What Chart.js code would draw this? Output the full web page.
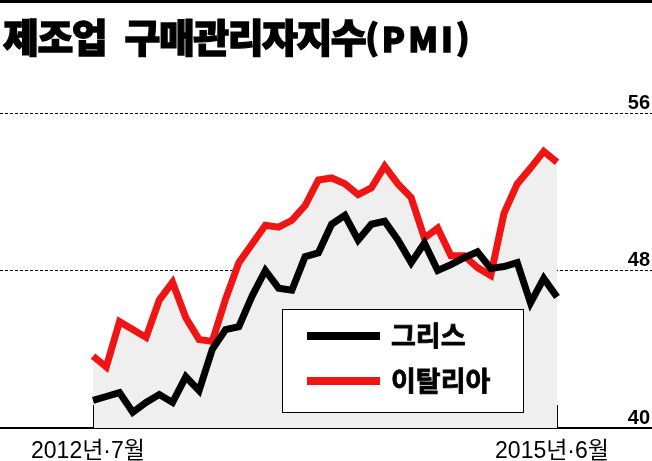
<!DOCTYPE html>
<html lang="ko">
<head>
<meta charset="utf-8">
<title>제조업 구매관리자지수(PMI)</title>
<script src="https://cdn.jsdelivr.net/npm/chart.js@4.4.1/dist/chart.umd.min.js"></script>
<style>
  html, body { margin: 0; padding: 0; background: #fff; }
  #wrap { position: relative; width: 652px; height: 461px; overflow: hidden; }
  #topRule { position: absolute; left: 0; top: 0; width: 652px; height: 3px; background: #000; }
  #title {
    position: absolute; left: 3px; top: 16px; margin: 0;
    font-family: "Noto Sans CJK KR Black", "Noto Sans CJK KR", sans-serif; font-weight: 900;
    font-size: 39px; line-height: 39px; letter-spacing: -1.5px; word-spacing: 9px;
    -webkit-text-stroke: 1.3px #000;
    color: #000; white-space: nowrap;
  }
  #title small { font-size: 34px; letter-spacing: 3px; }
  canvas { position: absolute; left: 0; top: 0; }
</style>
</head>
<body>
<div id="wrap">
  <canvas id="chart" width="652" height="461"></canvas>
  <div id="topRule"></div>
  <h1 id="title">제조업 구매관리자지수<small>(PMI)</small></h1>
</div>
<script>
// 월별 카테고리: 2012년 7월 ~ 2015년 6월
const months = [];
for (let y = 2012, m = 7; months.length < 36; m++) {
  if (m > 12) { m = 1; y++; }
  months.push(`${y}년·${m}월`);
}

const seriesNames = ['그리스', '이탈리아'];

// 그리스 PMI
const greece = [
  41.4, 41.6, 41.8, 40.8, 41.3, 41.7, 41.3, 42.6, 41.9, 44.0, 45.0, 45.15,
  46.7, 48.0, 47.1, 47.0, 48.7, 48.9, 50.35, 50.8, 49.55, 50.35, 50.5, 49.55,
  48.4, 49.4, 48.0, 48.3, 48.65, 48.95, 48.1, 48.2, 48.4, 46.35, 47.6, 46.65
];

// 이탈리아 PMI
const italy = [
  43.65, 43.1, 45.4, 45.0, 44.6, 46.5, 47.4, 45.6, 44.5, 44.4, 46.55, 48.4,
  49.35, 50.3, 50.2, 50.55, 51.3, 52.6, 52.7, 52.4, 51.85, 52.2, 53.3, 52.4,
  51.7, 49.65, 50.15, 48.75, 48.75, 48.15, 47.75, 50.9, 52.4, 53.2, 54.05, 53.5
];

const yTicks = [40, 48, 56];

// 범례 상자 + 아래축 작은 눈금
const boxLegend = {
  id: 'boxLegend',
  afterDraw(chart) {
    const ctx = chart.ctx;
    const xs = chart.scales.x;
    const bottom = chart.chartArea.bottom;
    ctx.save();
    ctx.strokeStyle = '#000';
    ctx.lineWidth = 1;
    xs.ticks.forEach(t => {
      const px = Math.round(xs.getPixelForValue(t.value)) + 0.5;
      ctx.beginPath();
      ctx.moveTo(px, bottom - 23);
      ctx.lineTo(px, bottom);
      ctx.stroke();
    });

    ctx.fillStyle = '#fff';
    ctx.fillRect(282, 309, 241, 103);
    ctx.strokeRect(282.5, 309.5, 241, 103);

    chart.data.datasets.forEach((ds, i) => {
      const y = 336 + i * 45;
      ctx.strokeStyle = ds.borderColor;
      ctx.lineWidth = 8;
      ctx.lineCap = 'butt';
      ctx.beginPath();
      ctx.moveTo(307, y);
      ctx.lineTo(380, y);
      ctx.stroke();
      ctx.fillStyle = '#000';
      ctx.strokeStyle = '#000';
      ctx.lineWidth = 0.8;
      ctx.font = 'bold 27px "Noto Sans CJK KR"';
      ctx.textBaseline = 'middle';
      ctx.fillText(ds.label, 391, y);
      ctx.strokeText(ds.label, 391, y);
    });
    ctx.restore();
  }
};

const lineStyle = {
  borderWidth: 7,
  pointRadius: 0,
  tension: 0,
  fill: 'start',
  backgroundColor: '#efefef',
  borderJoinStyle: 'miter'
};

new Chart(document.getElementById('chart'), {
  type: 'line',
  data: {
    datasets: [
      { ...lineStyle, label: seriesNames[0], borderColor: '#000000', data: greece.map((v, i) => ({ x: i, y: v })) },
      { ...lineStyle, label: seriesNames[1], borderColor: '#ef1515', data: italy.map((v, i) => ({ x: i, y: v })) }
    ]
  },
  options: {
    responsive: false,
    animation: false,
    layout: { padding: { top: 113, left: 0, right: 0, bottom: 0 } },
    plugins: {
      legend: { display: false },
      tooltip: { enabled: false },
      filler: { drawTime: 'beforeDatasetsDraw' }
    },
    scales: {
      x: {
        type: 'linear',
        min: -7.015,
        max: 42.165,
        afterBuildTicks: s => { s.ticks = [{ value: 0 }, { value: months.length - 1 }]; },
        afterFit: s => { s.height = 33; },
        ticks: {
          autoSkip: false,
          maxRotation: 0,
          padding: 2,
          labelOffset: -5,
          color: '#000',
          font: { family: '"Liberation Sans", "Noto Sans CJK KR"', size: 23 },
          callback: v => months[v]
        },
        grid: { display: false },
        border: { display: true, color: '#000', width: 2 }
      },
      y: {
        position: 'right',
        min: 40,
        max: 56,
        afterBuildTicks: s => { s.ticks = yTicks.map(v => ({ value: v })); },
        afterFit: s => { s.width = 0; },
        ticks: {
          mirror: true,
          padding: -2,
          labelOffset: -10,
          color: '#000',
          font: { family: '"Liberation Sans"', size: 20, weight: 'bold' }
        },
        grid: { color: '#000', lineWidth: 1, drawTicks: false },
        border: { display: false, dash: [3, 2] }
      }
    }
  },
  plugins: [boxLegend]
});
</script>
</body>
</html>
